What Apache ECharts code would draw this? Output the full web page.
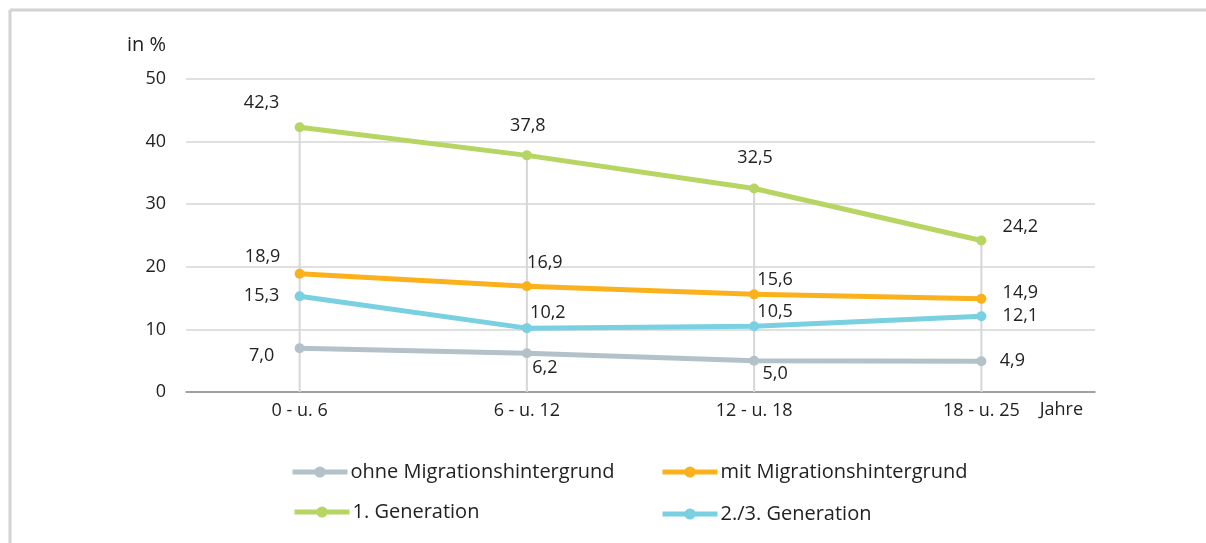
<!DOCTYPE html>
<html>
<head>
<meta charset="utf-8">
<script src="https://cdn.jsdelivr.net/npm/echarts@6/dist/echarts.min.js"></script>
<style>html,body{margin:0;padding:0;background:#fff}#c{width:1206px;height:543px}</style>
</head>
<body>
<div id="c"></div>
<script>
const categories = ['0 - u. 6', '6 - u. 12', '12 - u. 18', '18 - u. 25'];
const seriesNames = ['ohne Migrationshintergrund', 'mit Migrationshintergrund', '1. Generation', '2./3. Generation'];
const ohneMig = [7.0, 6.2, 5.0, 4.9];
const mitMig = [18.9, 16.9, 15.6, 14.9];
const gen1 = [42.3, 37.8, 32.5, 24.2];
const gen23 = [15.3, 10.2, 10.5, 12.1];
const yTicks = [0, 10, 20, 30, 40, 50];

const FONT = '"Open Sans", "Noto Sans", sans-serif';
const colors = ['#b3c1c9', '#fbb11c', '#b7d562', '#78d0e1'];
// label offsets per series per point (style only)
const labelOffsets = [
  [[-38, 8], [18, 15], [21, 13], [31, 0]],
  [[-37, -17], [18, -23], [21, -14], [39, -6]],
  [[-38, -24], [1, -29], [1, -31], [39, -14]],
  [[-38, 0], [21, -15], [21, -14], [39, 0]]
];
const fmt = v => v.toFixed(1).replace('.', ',');
const allData = [ohneMig, mitMig, gen1, gen23];

const series = allData.map((arr, si) => ({
  name: seriesNames[si],
  type: 'line',
  z: si === 2 ? 4 : 3,
  symbol: 'circle',
  symbolSize: 10,
  lineStyle: { width: 5, color: colors[si] },
  itemStyle: { color: colors[si] },
  emphasis: { disabled: true },
  data: arr.map((v, i) => ({
    value: v,
    label: {
      show: true,
      position: 'inside',
      offset: labelOffsets[si][i],
      formatter: p => fmt(p.value),
      color: '#222',
      fontSize: 18,
      fontFamily: FONT
    }
  }))
}));

// drop lines from the top (1. Generation) values down to the axis
series.push({
  type: 'bar',
  name: 'drop',
  data: gen1,
  barWidth: 2,
  itemStyle: { color: '#d6d6d6' },
  z: 1,
  silent: true,
  legendHoverLink: false
});

const legendBase = {
  itemWidth: 55,
  itemHeight: 14,
  itemGap: 4,
  padding: 0,
  lineStyle: { width: 5 },
  textStyle: { fontSize: 20, fontFamily: FONT, color: '#222', padding: [0, 0, 0, -2] },
  selectedMode: false
};

const option = {
  animation: false,
  backgroundColor: '#fff',
  grid: { left: 186, right: 111, top: 79, bottom: 151, containLabel: false },
  xAxis: {
    type: 'category',
    data: categories,
    boundaryGap: true,
    axisLine: { show: true, lineStyle: { color: '#8a8a8a', width: 1.5 } },
    axisTick: { show: false },
    axisLabel: { color: '#222', fontSize: 18, fontFamily: FONT, margin: 10 },
    name: 'Jahre',
    nameLocation: 'end',
    nameGap: -12,
    nameTextStyle: { align: 'right', verticalAlign: 'top', color: '#222', fontSize: 18, fontFamily: FONT, padding: [9, 0, 0, 0] }
  },
  yAxis: {
    type: 'value',
    min: yTicks[0],
    max: yTicks[yTicks.length - 1],
    interval: 10,
    axisLine: { show: false },
    axisTick: { show: false },
    splitLine: { lineStyle: { color: '#d6d6d6', width: 1.5 } },
    axisLabel: { color: '#222', fontSize: 18, fontFamily: FONT, margin: 20 },
    name: 'in %',
    nameLocation: 'end',
    nameGap: 24,
    nameTextStyle: { align: 'right', color: '#222', fontSize: 20, fontFamily: FONT, padding: [0, 20, 0, 0] }
  },
  legend: [
    Object.assign({}, legendBase, { data: [seriesNames[0]], left: 290, top: 462 }),
    Object.assign({}, legendBase, { data: [seriesNames[1]], left: 660, top: 462 }),
    Object.assign({}, legendBase, { data: [seriesNames[2]], left: 292, top: 502 }),
    Object.assign({}, legendBase, { data: [seriesNames[3]], left: 660, top: 504 })
  ],
  graphic: [
    { type: 'line', shape: { x1: 10, y1: 10, x2: 1206, y2: 10 }, style: { stroke: '#d2d2d2', lineWidth: 3 }, silent: true },
    { type: 'line', shape: { x1: 10, y1: 10, x2: 10, y2: 543 }, style: { stroke: '#d2d2d2', lineWidth: 3 }, silent: true }
  ],
  series: series
};

const chart = echarts.init(document.getElementById('c'), null, { renderer: 'canvas' });
chart.setOption(option);
</script>
</body>
</html>
